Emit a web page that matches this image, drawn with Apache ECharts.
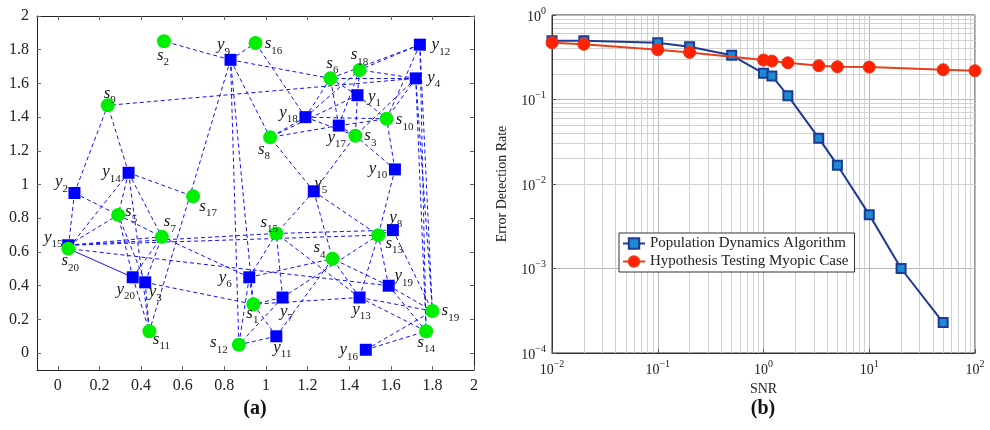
<!DOCTYPE html>
<html>
<head>
<meta charset="utf-8">
<script src="https://cdn.jsdelivr.net/npm/echarts@6/dist/echarts.min.js"></script>
<style>
  html, body { margin: 0; padding: 0; background: #fff; }
  #chart { width: 990px; height: 430px; }
</style>
</head>
<body>
<div id="chart"></div>
<script>
// ---- panel (a): node positions ----
const sNames = ['s1','s2','s3','s4','s5','s6','s7','s8','s9','s10','s11','s12','s13','s14','s15','s16','s17','s18','s19','s20']
const sX = [0.94, 0.51, 1.43, 1.32, 0.29, 1.31, 0.50, 1.02, 0.24, 1.58, 0.44, 0.87, 1.54, 1.77, 1.05, 0.95, 0.65, 1.45, 1.80, 0.05]
const sY = [0.29, 1.85, 1.29, 0.56, 0.82, 1.63, 0.69, 1.28, 1.47, 1.39, 0.13, 0.05, 0.70, 0.13, 0.71, 1.84, 0.93, 1.68, 0.25, 0.62]

const yNames = ['y1','y2','y3','y4','y5','y6','y7','y8','y9','y10','y11','y12','y13','y14','y15','y16','y17','y18','y19','y20']
const yX = [1.44, 0.08, 0.42, 1.72, 1.23, 0.92, 1.08, 1.61, 0.83, 1.62, 1.05, 1.74, 1.45, 0.34, 0.05, 1.48, 1.35, 1.19, 1.59, 0.36]
const yY = [1.53, 0.95, 0.42, 1.63, 0.96, 0.45, 0.33, 0.73, 1.74, 1.09, 0.10, 1.83, 0.33, 1.07, 0.64, 0.02, 1.35, 1.40, 0.40, 0.45]

// which s nodes each y node is linked to (dashed)
const links = {
    y1: ['s18', 's6', 's10', 's3', 's8'],
    y2: ['s9', 's7', 's20'],
    y3: ['s5', 's7', 's11', 's1'],
    y4: ['s9', 's6', 's18', 's10', 's3', 's19', 's14'],
    y5: ['s8', 's3', 's15', 's4', 's13'],
    y6: ['s7', 's15', 's4', 's12', 's1'],
    y7: ['s15', 's1', 's12', 's13'],
    y8: ['s13', 's15', 's19'],
    y9: ['s2', 's16', 's6', 's8', 's11', 's12', 's1'],
    y10: ['s10', 's3', 's13'],
    y11: ['s12', 's1', 's4'],
    y12: ['s6', 's18', 's10', 's19', 's14'],
    y13: ['s15', 's4', 's13', 's1', 's19', 's14'],
    y14: ['s9', 's17', 's20', 's5', 's7', 's11'],
    y15: ['s5', 's7', 's15', 's13'],
    y16: ['s19', 's14'],
    y17: ['s6', 's18', 's8', 's10', 's3'],
    y18: ['s16', 's6', 's18', 's8', 's10', 's3'],
    y19: ['s20', 's4', 's13', 's19', 's14'],
    y20: ['s5', 's7', 's11'],
}
const solidLinks = [['y20', 's20']]

const ticksA = [0, 0.2, 0.4, 0.6, 0.8, 1, 1.2, 1.4, 1.6, 1.8, 2]

// ---- panel (b): error detection rate vs SNR ----
const pdSnr = [0.01, 0.02, 0.1, 0.2, 0.5, 1, 1.2, 1.7, 3.33, 5, 10, 20, 50]
const pdRate = [0.496, 0.496, 0.47, 0.421, 0.333, 0.204, 0.19, 0.111, 0.0349, 0.0167, 0.00434, 0.001, 0.000229]
const htSnr = [0.01, 0.02, 0.1, 0.2, 1, 1.2, 1.7, 3.33, 5, 10, 50, 100]
const htRate = [0.47, 0.45, 0.388, 0.361, 0.293, 0.285, 0.272, 0.251, 0.244, 0.242, 0.225, 0.219]
const minorX = [0.02,0.03,0.04,0.05,0.06,0.07,0.08,0.09,0.2,0.3,0.4,0.5,0.6,0.7,0.8,0.9,2,3,4,5,6,7,8,9,20,30,40,50,60,70,80,90]
const minorY = [0.0002,0.0003,0.0004,0.0005,0.0006,0.0007,0.0008,0.0009,0.002,0.003,0.004,0.005,0.006,0.007,0.008,0.009,0.02,0.03,0.04,0.05,0.06,0.07,0.08,0.09,0.2,0.3,0.4,0.5,0.6,0.7,0.8,0.9]

// label offsets (px) of each node name from its marker
const labelAt = {
    s1: [-1, 10], s2: [-1, 15], s3: [15, 1], s4: [-13, -10], s5: [13, -2],
    s6: [2, -14], s7: [8, -14], s8: [-6, 13], s9: [2, -11], s10: [18, 2],
    s11: [12, 9], s12: [-20, -1], s13: [16, 9], s14: [0, 12], s15: [-7, -10],
    s16: [18, 2], s17: [15, 11], s18: [0, -14], s19: [18, 1], s20: [2, 13],
    y1: [17, 2], y2: [-13, -10], y3: [10, 10], y4: [18, 0], y5: [7, -7],
    y6: [-24, 1], y7: [4, 15], y8: [3, -12], y9: [-7, -14], y10: [-17, 0],
    y11: [6, 12], y12: [21, 1], y13: [2, 13], y14: [-17, 0], y15: [-15, -7],
    y16: [-17, 1], y17: [-2, 13], y18: [-17, -4], y19: [15, -9], y20: [-7, 13],
}

const serif = '"Liberation Serif", "DejaVu Serif", serif'

const pos = {}
sNames.forEach((n, i) => { pos[n] = [sX[i], sY[i]] })
yNames.forEach((n, i) => { pos[n] = [yX[i], yY[i]] })

const edgeData = []
Object.keys(links).forEach(y => {
    links[y].forEach(s => edgeData.push({ coords: [pos[y], pos[s]] }))
})
solidLinks.forEach(([a, b]) => {
    edgeData.push({ coords: [pos[a], pos[b]], lineStyle: { type: 'solid' } })
})

const nodeItems = (names, xs, ys) => names.map((n, i) => ({
    name: n,
    value: [xs[i], ys[i]],
    label: { offset: [labelAt[n][0], labelAt[n][1] + 1] },
}))

const nodeLabel = {
    show: true,
    position: 'inside',
    formatter: p => '{v|' + p.name[0] + '}{n|' + p.name.slice(1) + '}',
    rich: {
        v: { fontFamily: serif, fontStyle: 'italic', fontSize: 17, verticalAlign: 'bottom', padding: [0, 0, 4, 0], color: '#1a1a1a' },
        n: { fontFamily: serif, fontSize: 11, verticalAlign: 'bottom', color: '#1a1a1a' },
    },
}

const powLabel = v => '{b|10}{e|' + String(Math.round(Math.log10(v))).replace('-', '−') + '}'
const powRich = {
    b: { fontFamily: serif, fontSize: 14, lineHeight: 18, verticalAlign: 'bottom', color: '#222' },
    e: { fontFamily: serif, fontSize: 10, lineHeight: 10, verticalAlign: 'top', color: '#222' },
}

const axisA = (pos, showLabel) => ({
    gridIndex: 0,
    type: 'value',
    position: pos,
    min: -0.1,
    max: 2,
    axisLine: { show: true, onZero: false, lineStyle: { color: '#222', width: 1 } },
    axisTick: { show: true, inside: true, length: 4, customValues: ticksA, lineStyle: { color: '#666' } },
    axisLabel: {
        show: showLabel, customValues: ticksA, color: '#222',
        fontFamily: serif, fontSize: 16, margin: 8,
    },
    splitLine: { show: false },
})

const chart = echarts.init(document.getElementById('chart'))

chart.setOption({
    animation: false,
    backgroundColor: '#fff',
    grid: [
        { left: 37, top: 16, width: 437, height: 354 },
        { left: 552, top: 15, width: 423, height: 338, show: true, borderColor: '#333', borderWidth: 1 },
    ],
    xAxis: [
        axisA('bottom', true),
        axisA('top', false),
        {
            gridIndex: 1,
            type: 'log',
            logBase: 10,
            min: 0.01,
            max: 100,
            name: 'SNR',
            nameLocation: 'middle',
            nameGap: 29,
            nameTextStyle: { fontFamily: serif, fontSize: 14, color: '#222' },
            axisLine: { show: true, onZero: false, lineStyle: { color: '#333' } },
            axisTick: { show: true, inside: true, length: 4, lineStyle: { color: '#555' } },
            axisLabel: { formatter: powLabel, rich: powRich, margin: 6 },
            splitLine: { show: true, lineStyle: { color: '#b8b8b8', width: 1 } },
        },
    ],
    yAxis: [
        axisA('left', true),
        axisA('right', false),
        {
            gridIndex: 1,
            type: 'log',
            logBase: 10,
            min: 0.0001,
            max: 1,
            name: 'Error Detection Rate',
            nameLocation: 'middle',
            nameGap: 43,
            nameTextStyle: { fontFamily: serif, fontSize: 14, color: '#222' },
            axisLine: { show: true, onZero: false, lineStyle: { color: '#333' } },
            axisTick: { show: true, inside: true, length: 4, lineStyle: { color: '#555' } },
            axisLabel: { formatter: powLabel, rich: powRich, margin: 6 },
            splitLine: { show: true, lineStyle: { color: '#b8b8b8', width: 1 } },
        },
    ],
    legend: {
        left: 619,
        top: 233,
        orient: 'vertical',
        data: ['Population Dynamics Algorithm', 'Hypothesis Testing Myopic Case'],
        backgroundColor: '#fff',
        borderColor: '#333',
        borderWidth: 1,
        borderRadius: 0,
        padding: [3, 6, 3, 3],
        itemGap: 3,
        itemWidth: 22,
        itemHeight: 13,
        textStyle: { fontFamily: serif, fontSize: 15, color: '#222' },
    },
    graphic: [
        { type: 'text', x: 255, y: 409, style: { text: '(a)', fontFamily: serif, fontSize: 20, fontWeight: 'bold', fill: '#111', align: 'center', verticalAlign: 'middle' } },
        { type: 'text', x: 763, y: 409, style: { text: '(b)', fontFamily: serif, fontSize: 20, fontWeight: 'bold', fill: '#111', align: 'center', verticalAlign: 'middle' } },
    ],
    series: [
        {
            type: 'lines',
            coordinateSystem: 'cartesian2d',
            xAxisIndex: 0,
            yAxisIndex: 0,
            silent: true,
            z: 2,
            lineStyle: { color: '#1010ff', width: 1, type: [4, 3], opacity: 1 },
            data: edgeData,
        },
        {
            type: 'scatter',
            xAxisIndex: 0,
            yAxisIndex: 0,
            symbol: 'rect',
            symbolSize: 12,
            z: 3,
            itemStyle: { color: '#0000ff', opacity: 1 },
            label: nodeLabel,
            data: nodeItems(yNames, yX, yY),
        },
        {
            type: 'scatter',
            xAxisIndex: 0,
            yAxisIndex: 0,
            symbol: 'circle',
            symbolSize: 14,
            z: 4,
            itemStyle: { color: '#00ee00', opacity: 1 },
            label: nodeLabel,
            data: nodeItems(sNames, sX, sY),
        },
        {
            type: 'line',
            xAxisIndex: 2,
            yAxisIndex: 2,
            data: [],
            z: 1,
            silent: true,
            markLine: {
                z: 0,
                silent: true,
                symbol: 'none',
                animation: false,
                label: { show: false },
                lineStyle: { color: '#d2d2d2', type: 'solid', width: 1 },
                data: minorX.map(v => ({ xAxis: v })).concat(minorY.map(v => ({ yAxis: v }))),
            },
        },
        {
            name: 'Population Dynamics Algorithm',
            type: 'line',
            xAxisIndex: 2,
            yAxisIndex: 2,
            z: 3,
            symbol: 'rect',
            symbolSize: 9,
            lineStyle: { color: '#1d3a94', width: 2, type: 'solid' },
            itemStyle: { color: '#1e8ad2', borderColor: '#1d3a94', borderWidth: 2 },
            data: pdSnr.map((x, i) => [x, pdRate[i]]),
        },
        {
            name: 'Hypothesis Testing Myopic Case',
            type: 'line',
            xAxisIndex: 2,
            yAxisIndex: 2,
            z: 4,
            symbol: 'circle',
            symbolSize: 12,
            lineStyle: { color: '#e5401c', width: 2, type: 'solid' },
            itemStyle: { color: '#ff2200', borderColor: '#ee3518', borderWidth: 1 },
            data: htSnr.map((x, i) => [x, htRate[i]]),
        },
    ],
})
</script>
</body>
</html>
